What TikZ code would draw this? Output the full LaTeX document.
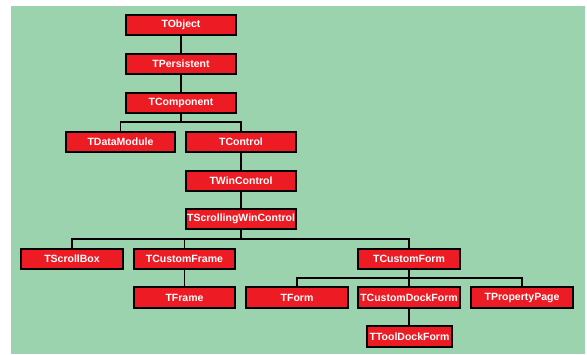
\documentclass[tikz,border=0pt]{standalone}
\usepackage{fontspec}
\setmainfont{Liberation Sans}
\definecolor{bggreen}{RGB}{155,211,174}
\definecolor{boxred}{RGB}{237,28,36}
\begin{document}
\begin{tikzpicture}[x=1pt,y=-1pt,
  cls/.style={draw=black,fill=boxred,line width=2pt,minimum height=20.5pt,inner sep=0pt,
    text=white,font=\fontsize{10.5}{12}\selectfont\bfseries},
  conn/.style={draw=black,line width=1.1pt}]
\useasboundingbox (0,0) rectangle (587,354);
\fill[white] (0,0) rectangle (587,354);
\fill[bggreen] (11,6) rectangle (585,354);
\node[cls,minimum width=110.5pt] (obj) at (181,25) {TObject};
\node[cls,minimum width=110.5pt] (pers) at (181,64) {TPersistent};
\node[cls,minimum width=110.5pt] (comp) at (181,103) {TComponent};
\node[cls,minimum width=109.5pt] (dm) at (120.5,142) {TDataModule};
\node[cls,minimum width=110.5pt] (ctrl) at (241,142) {TControl};
\node[cls,minimum width=110.5pt] (win) at (241,181) {TWinControl};
\node[cls,minimum width=110.5pt] (scw) at (241,219) {TScrollingWinControl};
\node[cls,minimum width=102.5pt] (sb) at (72,259) {TScrollBox};
\node[cls,minimum width=101.5pt] (cfr) at (184.5,259) {TCustomFrame};
\node[cls,minimum width=101.5pt] (frm) at (184.5,297.5) {TFrame};
\node[cls,minimum width=102.5pt] (cfm) at (409,259) {TCustomForm};
\node[cls,minimum width=102.5pt] (form) at (297,297.5) {TForm};
\node[cls,minimum width=102.5pt] (cdf) at (409,297.5) {TCustomDockForm};
\node[cls,minimum width=102.5pt] (pp) at (522,297.5) {TPropertyPage};
\node[cls,minimum width=85.5pt] (tdf) at (409.5,336.5) {TToolDockForm};
\draw[conn] (obj.south) -- (pers.north);
\draw[conn] (pers.south) -- (comp.north);
\coordinate (j1) at (181,122);
\draw[conn] (comp.south) -- (j1) -| (dm.north);
\draw[conn] (j1) -| (ctrl.north);
\draw[conn] (ctrl.south) -- (win.north);
\draw[conn] (win.south) -- (scw.north);
\coordinate (j2) at (241,239);
\draw[conn] (scw.south) -- (j2) -| (sb.north);
\draw[conn] (j2) -| (cfr.north);
\draw[conn] (j2) -| (cfm.north);
\draw[conn] (cfr.south) -- (frm.north);
\coordinate (j3) at (409,278);
\draw[conn] (cfm.south) -- (j3) -| (form.north);
\draw[conn] (j3) -- (cdf.north);
\draw[conn] (j3) -| (pp.north);
\draw[conn] (cdf.south) -- (cdf.south |- tdf.north);
\end{tikzpicture}
\end{document}
